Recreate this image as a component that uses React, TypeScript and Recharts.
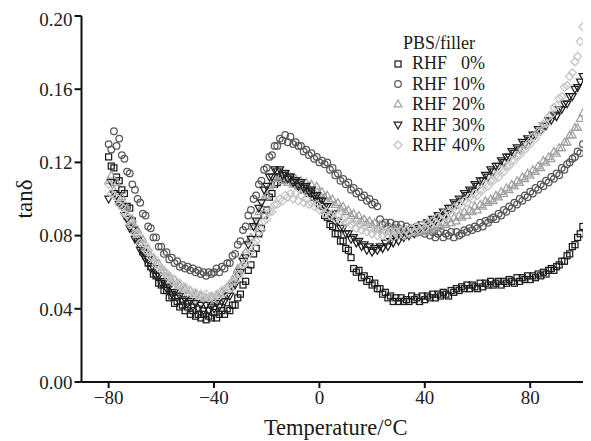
import React from "react";
import { ScatterChart, Scatter, XAxis, YAxis, Legend, Label } from "recharts";

const temps = [
  -80, -79, -78, -77, -76, -75, -74, -73, -72, -71,
  -70, -69, -68, -67, -66, -65, -64, -63, -62, -61,
  -60, -59, -58, -57, -56, -55, -54, -53, -52, -51,
  -50, -49, -48, -47, -46, -45, -44, -43, -42, -41,
  -40, -39, -38, -37, -36, -35, -34, -33, -32, -31,
  -30, -29, -28, -27, -26, -25, -24, -23, -22, -21,
  -20, -19, -18, -17, -16, -15, -14, -13, -12, -11,
  -10, -9, -8, -7, -6, -5, -4, -3, -2, -1,
  0, 1, 2, 3, 4, 5, 6, 7, 8, 9,
  10, 11, 12, 13, 14, 15, 16, 17, 18, 19,
  20, 21, 22, 23, 24, 25, 26, 27, 28, 29,
  30, 31, 32, 33, 34, 35, 36, 37, 38, 39,
  40, 41, 42, 43, 44, 45, 46, 47, 48, 49,
  50, 51, 52, 53, 54, 55, 56, 57, 58, 59,
  60, 61, 62, 63, 64, 65, 66, 67, 68, 69,
  70, 71, 72, 73, 74, 75, 76, 77, 78, 79,
  80, 81, 82, 83, 84, 85, 86, 87, 88, 89,
  90, 91, 92, 93, 94, 95, 96, 97, 98, 99,
  100,
];

const tan0 = [
  0.123, 0.118, 0.117, 0.112, 0.110, 0.105, 0.103, 0.096, 0.095, 0.088,
  0.083, 0.078, 0.076, 0.071, 0.069, 0.065, 0.063, 0.059, 0.058, 0.054,
  0.053, 0.050, 0.050, 0.046, 0.047, 0.043, 0.044, 0.041, 0.042, 0.039,
  0.041, 0.037, 0.039, 0.036, 0.037, 0.035, 0.037, 0.034, 0.036, 0.035,
  0.038, 0.035, 0.037, 0.039, 0.037, 0.040, 0.039, 0.042, 0.042, 0.046,
  0.048, 0.053, 0.055, 0.061, 0.064, 0.070, 0.073, 0.081, 0.084, 0.091,
  0.094, 0.101, 0.103, 0.108, 0.109, 0.112, 0.111, 0.114, 0.111, 0.112,
  0.109, 0.110, 0.107, 0.108, 0.105, 0.106, 0.103, 0.104, 0.101, 0.100,
  0.097, 0.096, 0.091, 0.090, 0.086, 0.085, 0.081, 0.081, 0.077, 0.077,
  0.073, 0.072, 0.068, 0.062, 0.060, 0.061, 0.057, 0.058, 0.055, 0.056,
  0.053, 0.054, 0.051, 0.051, 0.048, 0.049, 0.046, 0.047, 0.044, 0.046,
  0.044, 0.046, 0.044, 0.045, 0.044, 0.047, 0.045, 0.046, 0.044, 0.047,
  0.045, 0.047, 0.046, 0.048, 0.046, 0.048, 0.047, 0.049, 0.048, 0.047,
  0.050, 0.049, 0.051, 0.050, 0.052, 0.051, 0.053, 0.051, 0.053, 0.052,
  0.051, 0.054, 0.052, 0.054, 0.053, 0.055, 0.053, 0.054, 0.055, 0.053,
  0.055, 0.054, 0.056, 0.055, 0.054, 0.057, 0.055, 0.057, 0.056, 0.058,
  0.056, 0.058, 0.057, 0.059, 0.058, 0.060, 0.059, 0.061, 0.062, 0.061,
  0.063, 0.064, 0.066, 0.066, 0.069, 0.070, 0.074, 0.075, 0.079, 0.081,
  0.085,
];

const tan10 = [
  0.130, 0.127, 0.137, 0.129, 0.133, 0.124, 0.122, 0.115, 0.114, 0.108,
  0.105, 0.100, 0.098, 0.092, 0.091, 0.085, 0.084, 0.079, 0.079, 0.074,
  0.074, 0.070, 0.071, 0.067, 0.068, 0.065, 0.066, 0.063, 0.064, 0.062,
  0.063, 0.061, 0.062, 0.060, 0.061, 0.059, 0.060, 0.058, 0.060, 0.059,
  0.060, 0.062, 0.060, 0.063, 0.062, 0.065, 0.065, 0.069, 0.070, 0.075,
  0.077, 0.083, 0.085, 0.091, 0.094, 0.100, 0.102, 0.108, 0.110, 0.116,
  0.117, 0.123, 0.124, 0.129, 0.129, 0.133, 0.132, 0.135, 0.131, 0.134,
  0.130, 0.131, 0.129, 0.129, 0.126, 0.127, 0.124, 0.125, 0.122, 0.123,
  0.120, 0.121, 0.119, 0.120, 0.116, 0.117, 0.113, 0.114, 0.110, 0.111,
  0.108, 0.109, 0.105, 0.106, 0.103, 0.104, 0.101, 0.102, 0.099, 0.100,
  0.097, 0.098, 0.096, 0.089, 0.086, 0.087, 0.085, 0.087, 0.084, 0.086,
  0.084, 0.086, 0.083, 0.085, 0.083, 0.084, 0.082, 0.085, 0.082, 0.083,
  0.081, 0.083, 0.080, 0.082, 0.079, 0.081, 0.082, 0.079, 0.081, 0.080,
  0.082, 0.079, 0.082, 0.080, 0.081, 0.083, 0.082, 0.084, 0.083, 0.085,
  0.084, 0.087, 0.085, 0.088, 0.087, 0.089, 0.090, 0.089, 0.092, 0.091,
  0.094, 0.093, 0.096, 0.095, 0.098, 0.097, 0.100, 0.099, 0.102, 0.101,
  0.104, 0.103, 0.106, 0.105, 0.108, 0.107, 0.110, 0.109, 0.112, 0.111,
  0.114, 0.113, 0.117, 0.116, 0.119, 0.120, 0.122, 0.123, 0.126, 0.125,
  0.130,
];

const tan20 = [
  0.110, 0.113, 0.105, 0.109, 0.101, 0.101, 0.096, 0.095, 0.089, 0.089,
  0.084, 0.083, 0.078, 0.078, 0.073, 0.073, 0.069, 0.068, 0.065, 0.065,
  0.061, 0.061, 0.058, 0.058, 0.055, 0.056, 0.052, 0.053, 0.050, 0.051,
  0.048, 0.050, 0.047, 0.048, 0.046, 0.047, 0.045, 0.046, 0.045, 0.046,
  0.045, 0.047, 0.046, 0.049, 0.048, 0.052, 0.052, 0.056, 0.057, 0.062,
  0.063, 0.069, 0.071, 0.077, 0.079, 0.085, 0.087, 0.093, 0.095, 0.101,
  0.102, 0.107, 0.108, 0.112, 0.111, 0.113, 0.110, 0.113, 0.109, 0.112,
  0.108, 0.111, 0.107, 0.110, 0.106, 0.109, 0.105, 0.108, 0.104, 0.107,
  0.103, 0.104, 0.101, 0.102, 0.099, 0.100, 0.097, 0.098, 0.095, 0.096,
  0.093, 0.094, 0.091, 0.092, 0.089, 0.091, 0.088, 0.089, 0.087, 0.088,
  0.086, 0.087, 0.084, 0.086, 0.083, 0.085, 0.082, 0.084, 0.081, 0.084,
  0.081, 0.083, 0.080, 0.083, 0.081, 0.082, 0.081, 0.083, 0.082, 0.083,
  0.082, 0.084, 0.083, 0.085, 0.084, 0.086, 0.085, 0.087, 0.086, 0.089,
  0.087, 0.090, 0.088, 0.091, 0.090, 0.093, 0.091, 0.094, 0.093, 0.096,
  0.094, 0.097, 0.096, 0.099, 0.098, 0.100, 0.099, 0.102, 0.101, 0.104,
  0.103, 0.106, 0.105, 0.108, 0.107, 0.110, 0.109, 0.112, 0.111, 0.114,
  0.113, 0.116, 0.115, 0.118, 0.117, 0.121, 0.120, 0.123, 0.122, 0.126,
  0.125, 0.128, 0.128, 0.131, 0.131, 0.135, 0.135, 0.139, 0.139, 0.144,
  0.147,
];

const tan30 = [
  0.100, 0.109, 0.103, 0.102, 0.097, 0.096, 0.091, 0.089, 0.084, 0.083,
  0.078, 0.077, 0.072, 0.071, 0.067, 0.067, 0.062, 0.062, 0.058, 0.058,
  0.054, 0.055, 0.051, 0.052, 0.048, 0.049, 0.046, 0.047, 0.044, 0.045,
  0.043, 0.044, 0.041, 0.043, 0.040, 0.042, 0.039, 0.042, 0.039, 0.041,
  0.040, 0.043, 0.041, 0.044, 0.044, 0.047, 0.047, 0.052, 0.053, 0.058,
  0.060, 0.066, 0.068, 0.075, 0.078, 0.085, 0.088, 0.095, 0.098, 0.105,
  0.107, 0.112, 0.112, 0.116, 0.115, 0.116, 0.113, 0.114, 0.111, 0.112,
  0.109, 0.110, 0.107, 0.109, 0.106, 0.107, 0.104, 0.105, 0.102, 0.102,
  0.099, 0.099, 0.096, 0.096, 0.092, 0.092, 0.088, 0.088, 0.084, 0.084,
  0.081, 0.081, 0.078, 0.079, 0.076, 0.077, 0.074, 0.075, 0.072, 0.074,
  0.071, 0.073, 0.072, 0.074, 0.073, 0.076, 0.074, 0.077, 0.076, 0.079,
  0.077, 0.080, 0.079, 0.081, 0.080, 0.083, 0.081, 0.084, 0.083, 0.086,
  0.084, 0.087, 0.086, 0.089, 0.088, 0.091, 0.090, 0.093, 0.092, 0.095,
  0.095, 0.098, 0.097, 0.100, 0.099, 0.103, 0.102, 0.105, 0.104, 0.108,
  0.107, 0.110, 0.110, 0.113, 0.112, 0.116, 0.115, 0.118, 0.118, 0.121,
  0.120, 0.123, 0.123, 0.126, 0.125, 0.128, 0.127, 0.131, 0.130, 0.133,
  0.132, 0.135, 0.135, 0.138, 0.137, 0.140, 0.140, 0.143, 0.143, 0.146,
  0.145, 0.149, 0.149, 0.152, 0.152, 0.156, 0.156, 0.160, 0.161, 0.164,
  0.167,
];

const tan40 = [
  0.108, 0.103, 0.102, 0.101, 0.097, 0.096, 0.092, 0.091, 0.086, 0.086,
  0.081, 0.081, 0.076, 0.076, 0.072, 0.072, 0.068, 0.068, 0.064, 0.064,
  0.061, 0.061, 0.058, 0.058, 0.055, 0.056, 0.053, 0.054, 0.051, 0.052,
  0.049, 0.050, 0.048, 0.049, 0.047, 0.048, 0.046, 0.048, 0.046, 0.047,
  0.046, 0.048, 0.047, 0.050, 0.049, 0.052, 0.051, 0.055, 0.055, 0.059,
  0.059, 0.064, 0.065, 0.070, 0.071, 0.076, 0.077, 0.082, 0.083, 0.088,
  0.089, 0.093, 0.093, 0.097, 0.097, 0.100, 0.099, 0.102, 0.101, 0.103,
  0.100, 0.103, 0.099, 0.102, 0.098, 0.100, 0.097, 0.098, 0.096, 0.097,
  0.094, 0.095, 0.092, 0.093, 0.091, 0.092, 0.089, 0.091, 0.088, 0.089,
  0.087, 0.088, 0.086, 0.087, 0.084, 0.086, 0.083, 0.085, 0.082, 0.084,
  0.081, 0.083, 0.080, 0.083, 0.080, 0.082, 0.079, 0.082, 0.079, 0.082,
  0.080, 0.083, 0.080, 0.083, 0.081, 0.084, 0.082, 0.085, 0.083, 0.086,
  0.084, 0.087, 0.086, 0.088, 0.087, 0.090, 0.089, 0.092, 0.090, 0.093,
  0.092, 0.095, 0.094, 0.097, 0.096, 0.099, 0.098, 0.101, 0.100, 0.103,
  0.102, 0.105, 0.105, 0.108, 0.107, 0.110, 0.110, 0.113, 0.112, 0.116,
  0.115, 0.118, 0.118, 0.121, 0.121, 0.124, 0.124, 0.127, 0.127, 0.130,
  0.130, 0.134, 0.133, 0.137, 0.137, 0.141, 0.141, 0.145, 0.146, 0.150,
  0.151, 0.155, 0.156, 0.161, 0.162, 0.167, 0.169, 0.175, 0.178, 0.186,
  0.194,
];

const seriesNames = ["RHF 0%", "RHF 10%", "RHF 20%", "RHF 30%", "RHF 40%"];
const seriesValues = [tan0, tan10, tan20, tan30, tan40];
const seriesShapes = ["square", "circle", "up", "down", "diamond"];
const seriesColors = ["#1c1c1c", "#585858", "#a0a0a0", "#202020", "#c4c4c4"];

const xDomain = [-90.3, 102.7];
const yDomain = [0, 0.2];
const xTicks = [-80, -40, 0, 40, 80];
const yTicks = [0, 0.04, 0.08, 0.12, 0.16, 0.2];
const legendTitle = "PBS/filler";
const xTitle = "Temperature/°C";
const yTitle = "tanδ";

const CHART_W = 583;
const CHART_H = 433;
const M_TOP = 8;
const M_RIGHT = 1;
const X_AXIS_H = 59;
const Y_AXIS_W = 73.5;

const FONT = '"Liberation Serif", "Times New Roman", serif';

function Marker({ cx, cy, kind, color }: { cx: number; cy: number; kind: string; color: string }) {
  const sw = 1.25;
  if (cx == null || cy == null) return null;
  if (kind === "square") {
    return <rect x={cx - 3} y={cy - 3} width={6} height={6} fill="none" stroke={color} strokeWidth={sw} />;
  }
  if (kind === "circle") {
    return <circle cx={cx} cy={cy} r={3.3} fill="none" stroke={color} strokeWidth={sw} />;
  }
  if (kind === "up") {
    return (
      <polygon
        points={`${cx},${cy - 4} ${cx + 3.8},${cy + 2.8} ${cx - 3.8},${cy + 2.8}`}
        fill="none"
        stroke={color}
        strokeWidth={sw}
      />
    );
  }
  if (kind === "down") {
    return (
      <polygon
        points={`${cx - 3.8},${cy - 2.8} ${cx + 3.8},${cy - 2.8} ${cx},${cy + 4}`}
        fill="none"
        stroke={color}
        strokeWidth={sw}
      />
    );
  }
  return (
    <polygon
      points={`${cx},${cy - 4} ${cx + 4},${cy} ${cx},${cy + 4} ${cx - 4},${cy}`}
      fill="none"
      stroke={color}
      strokeWidth={sw}
    />
  );
}

function LegendBox() {
  return (
    <div style={{ fontFamily: FONT, fontSize: 18, color: "#1a1a1a", lineHeight: "20.4px" }}>
      <div style={{ paddingLeft: 11, height: 20.4 }}>{legendTitle}</div>
      {seriesNames.map((name, i) => {
        const parts = name.split(" ");
        return (
          <div key={name} style={{ display: "flex", alignItems: "center", height: 20.4 }}>
            <svg width={12} height={12} style={{ display: "block" }}>
              <Marker cx={6} cy={6} kind={seriesShapes[i]} color={seriesColors[i]} />
            </svg>
            <span style={{ marginLeft: 8 }}>{parts[0]}</span>
            <span style={{ display: "inline-block", width: 38, textAlign: "right" }}>{parts[1]}</span>
          </div>
        );
      })}
    </div>
  );
}

const fmtX = (v: number) => (v < 0 ? `\u2212${Math.abs(v)}` : `${v}`);
const fmtY = (v: number) => v.toFixed(2);
const tickFont = { fontFamily: FONT, fontSize: 19, fill: "#222" };

export default function App() {
  const datasets = seriesValues.map((vals) => temps.map((t, i) => ({ t, v: vals[i] })));
  return (
    <ScatterChart width={CHART_W} height={CHART_H} margin={{ top: M_TOP, right: M_RIGHT, bottom: 0, left: 0 }}>
      <XAxis
        type="number"
        dataKey="t"
        domain={xDomain}
        ticks={xTicks}
        height={X_AXIS_H}
        tickSize={6}
        tickMargin={3}
        tick={tickFont}
        tickFormatter={fmtX}
        stroke="#111"
        strokeWidth={2}
      >
        <Label value={xTitle} position="insideBottom" offset={6} style={{ fontFamily: FONT, fontSize: 22.5, fill: "#1a1a1a" }} />
      </XAxis>
      <XAxis
        xAxisId="top"
        orientation="top"
        type="number"
        dataKey="t"
        domain={xDomain}
        ticks={xTicks}
        height={0}
        mirror
        tick={false}
        tickSize={7}
        stroke="#555"
        strokeWidth={2}
      />
      <YAxis
        type="number"
        dataKey="v"
        domain={yDomain}
        ticks={yTicks}
        width={Y_AXIS_W}
        tickSize={7}
        tickMargin={2}
        tick={tickFont}
        tickFormatter={fmtY}
        stroke="#111"
        strokeWidth={2}
      >
        <Label
          content={() => (
            <text
              x={16}
              y={191}
              transform="rotate(-90, 16, 191)"
              textAnchor="middle"
              dominantBaseline="central"
              style={{ fontFamily: FONT, fontSize: 23, fill: "#1a1a1a" }}
            >
              {yTitle}
            </text>
          )}
        />
      </YAxis>
      <YAxis
        yAxisId="right"
        orientation="right"
        type="number"
        dataKey="v"
        domain={yDomain}
        ticks={yTicks}
        width={0}
        mirror
        tick={false}
        tickSize={7}
        stroke="#666"
        strokeWidth={2}
      />
      {datasets.map((data, i) => (
        <Scatter
          key={seriesNames[i]}
          name={seriesNames[i]}
          data={data}
          isAnimationActive={false}
          shape={(p: any) => <Marker cx={p.cx} cy={p.cy} kind={seriesShapes[i]} color={seriesColors[i]} />}
        />
      ))}
      <Legend
        layout="vertical"
        align="center"
        verticalAlign="middle"
        content={() => <LegendBox />}
        wrapperStyle={{ top: 25, left: 384, width: 130, height: 125 }}
      />
    </ScatterChart>
  );
}
